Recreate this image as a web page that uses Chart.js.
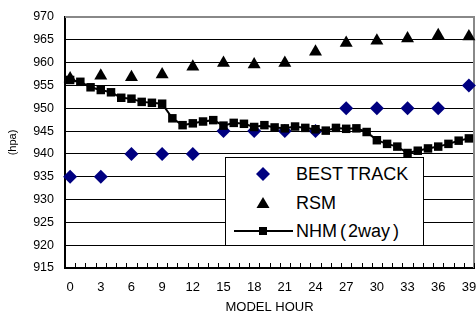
<!DOCTYPE html>
<html>
<head>
<meta charset="utf-8">
<script src="https://cdn.jsdelivr.net/npm/chart.js@4"></script>
<style>
    body { margin: 0; background: #fff; }
    #wrap { position: relative; width: 476px; height: 315px; }
    #grafico { position: absolute; left: 0; top: 0; }
    #legenda {
        position: absolute; left: 225px; top: 157px; width: 197px; height: 87px;
        border: 1px solid #000; background: #fff;
        font-family: "Liberation Sans", Arial, sans-serif; font-size: 18px; color: #000;
    }
    .item { position: absolute; left: 0; height: 28px; width: 197px; }
    .item svg { position: absolute; left: 7px; top: 0; }
    .item span.txt { position: absolute; left: 70px; top: 4px; line-height: 20px; white-space: nowrap; }
    .par { margin: 0 2px 0 3px; }
</style>
</head>
<body>
<div id="wrap">
    <canvas id="grafico" width="476" height="315"></canvas>
    <div id="legenda">
        <div class="item" style="top:2px">
            <svg width="60" height="28"><polygon points="30,7 37,14 30,21 23,14" fill="#000080"/></svg>
            <span class="txt">BEST TRACK</span>
        </div>
        <div class="item" style="top:31px">
            <svg width="60" height="28"><polygon points="30,8 36.5,19 23.5,19" fill="#000"/></svg>
            <span class="txt">RSM</span>
        </div>
        <div class="item" style="top:59px">
            <svg width="60" height="28"><line x1="1" y1="14" x2="60" y2="14" stroke="#000" stroke-width="2"/><rect x="26" y="10" width="8" height="8" fill="#000"/></svg>
            <span class="txt">NHM<span class="par">(</span>2way<span class="par">)</span></span>
        </div>
    </div>
</div>
<script>
// dados
const horas = ['0','1','2','3','4','5','6','7','8','9','10','11','12','13','14','15','16','17','18','19',
               '20','21','22','23','24','25','26','27','28','29','30','31','32','33','34','35','36','37','38','39'];

const horasBest = ['0','3','6','9','12','15','18','21','24','27','30','33','36','39'];
const bestTrack = [935, 935, 940, 940, 940, 945, 945, 945, 945, 950, 950, 950, 950, 955];

const horasRsm = ['0','3','6','9','12','15','18','21','24','27','30','33','36','39'];
const rsm = [956.5, 957.1, 956.8, 957.4, 959.1, 959.9, 959.6, 959.9, 962.4, 964.3, 964.8, 965.3, 966.0, 965.7];

const nhm = [956.2, 955.8, 954.6, 954.0, 953.5, 952.3, 952.1, 951.4, 951.2, 951.0,
             947.8, 946.3, 946.7, 947.1, 947.4, 946.2, 946.8, 946.6, 945.9, 946.3,
             945.8, 945.6, 946.0, 945.7, 945.4, 945.1, 945.7, 945.5, 945.6, 944.8,
             943.0, 942.2, 941.6, 940.2, 940.7, 941.2, 941.6, 942.2, 942.9, 943.4];

const yMin = 915, yMax = 970, yPasso = 5;

const fonte = "'Liberation Sans', Arial, sans-serif";

// moldura e tracinhos do eixo x (estilo excel)
const moldura = {
    id: 'moldura',
    beforeDatasetsDraw(chart) {
        const { ctx, chartArea: a, scales: { x } } = chart;
        ctx.save();
        ctx.strokeStyle = '#888';
        ctx.lineWidth = 2;
        ctx.beginPath();
        ctx.moveTo(a.left, a.top);
        ctx.lineTo(a.right, a.top);
        ctx.lineTo(a.right, a.bottom);
        ctx.stroke();
        ctx.strokeStyle = '#000';
        ctx.lineWidth = 1;
        const meio = (x.getPixelForValue(1) - x.getPixelForValue(0)) / 2;
        ctx.beginPath();
        for (let i = 0; i < horas.length; i++) {
            const px = Math.round(x.getPixelForValue(i) + meio) + 0.5;
            ctx.moveTo(px, a.bottom);
            ctx.lineTo(px, a.bottom - 5);
        }
        ctx.stroke();
        ctx.restore();
    }
};

const ctx = document.getElementById('grafico').getContext('2d');
const grafico = new Chart(ctx, {
    type: 'line',
    data: {
        labels: horas,
        datasets: [{
            label: 'NHM(2way)',
            data: nhm,
            borderColor: '#000',
            backgroundColor: '#000',
            borderWidth: 2,
            pointStyle: 'rect',
            pointRadius: 6,
            pointBorderWidth: 0,
            tension: 0,
            order: 0
        }, {
            label: 'RSM',
            data: horasRsm.map((h, i) => ({ x: h, y: rsm[i] })),
            showLine: false,
            backgroundColor: '#000',
            borderColor: '#000',
            pointStyle: 'triangle',
            pointRadius: 7.5,
            pointBorderWidth: 0,
            order: 1
        }, {
            label: 'BEST TRACK',
            data: horasBest.map((h, i) => ({ x: h, y: bestTrack[i] })),
            showLine: false,
            backgroundColor: '#000080',
            borderColor: '#000080',
            pointStyle: 'rectRot',
            pointRadius: 7,
            pointBorderWidth: 0,
            order: 2
        }]
    },
    options: {
        responsive: false,
        animation: false,
        layout: { autoPadding: false, padding: { top: 17, right: 2, left: 0, bottom: 0 } },
        plugins: {
            legend: { display: false },
            tooltip: { enabled: false }
        },
        scales: {
            x: {
                type: 'category',
                offset: true,
                grid: { drawOnChartArea: false, drawTicks: false },
                border: { color: '#000', width: 2 },
                ticks: {
                    autoSkip: false,
                    maxRotation: 0,
                    padding: 12,
                    color: '#000',
                    font: { family: fonte, size: 13 },
                    callback: function (v, i) { return i % 3 === 0 ? horas[i] : ''; }
                },
                title: {
                    display: true,
                    text: 'MODEL HOUR',
                    color: '#000',
                    font: { family: fonte, size: 13 },
                    padding: { top: 3, bottom: 0 }
                },
                afterFit(s) {
                    s.height = 47;
                    s.paddingLeft = 0;
                    s.paddingRight = 0;
                }
            },
            y: {
                min: yMin,
                max: yMax,
                grid: {
                    color: c => c.tick && c.tick.value === yMax ? 'rgba(0,0,0,0)' : '#000',
                    lineWidth: 1,
                    drawTicks: false
                },
                border: { color: '#000', width: 2 },
                ticks: {
                    stepSize: yPasso,
                    padding: 11,
                    color: '#000',
                    font: { family: fonte, size: 12.5 }
                },
                title: {
                    display: true,
                    text: '(hpa)',
                    color: '#000',
                    font: { family: fonte, size: 11 },
                    padding: { top: 6, bottom: 4 }
                },
                afterFit(s) {
                    s.width = 65;
                    s.paddingTop = 0;
                    s.paddingBottom = 0;
                }
            }
        }
    },
    plugins: [moldura]
});
</script>
</body>
</html>
